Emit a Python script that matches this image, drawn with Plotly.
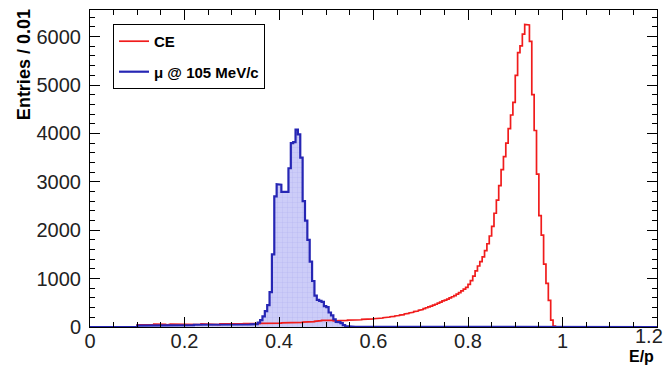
import plotly.graph_objects as go

# ---------------- data ----------------
BIN_W = 0.005
X_MIN, X_MAX = 0.0, 1.2

# CE (red) histogram: bins start at 0.100, width 0.005
ce_lo = 0.100
ce_vals = [
    45, 52, 48, 40, 55, 50, 47, 58, 44, 51, 49, 56, 42, 53, 60, 47, 50, 55, 46, 52,            # 0.100-0.195
    58, 49, 54, 61, 47, 55, 52, 63, 50, 57, 59, 48, 62, 55, 51, 64, 58, 53, 60, 56,            # 0.200-0.295
    62, 57, 66, 59, 63, 70, 58, 67, 64, 72, 66, 69, 75, 68, 73, 78, 71, 80, 76, 82,            # 0.300-0.395
    79, 85, 88, 83, 90, 87, 95, 92, 98, 94, 102, 99, 108, 104, 112, 118, 125, 132, 138, 142,   # 0.400-0.495
    145, 140, 136, 128, 124, 130, 127, 135, 138, 142, 140, 148, 145, 152, 150, 158, 155, 162, 160, 168,  # 0.500-0.595
    172, 176, 180, 186, 192, 198, 205, 212, 220, 228, 236, 246, 256, 268, 280, 292, 305, 318, 330, 345,  # 0.600-0.695
    360, 380, 398, 415, 432, 452, 470, 492, 515, 538, 556, 578, 600, 625, 650, 678, 710, 745, 782, 820,  # 0.700-0.795
    880, 960, 1050, 1160, 1260, 1350, 1450, 1580, 1720, 1880, 2080, 2350, 2620, 2920, 3250, 3520, 3800, 4100, 4380, 4640,  # 0.800-0.895
    5200, 5670, 5810, 6050, 6250, 6240, 5900, 4800, 4060, 3160, 2300, 1900, 1300, 900, 550, 140, 20, 0, 0, 0,  # 0.900-0.995
]

# mu @ 105 MeV/c (blue) histogram: bins start at 0.100, width 0.005
mu_lo = 0.100
mu_vals = [
    30, 38, 35, 42, 36, 40, 33, 45, 38, 41, 36, 43, 39, 35, 44, 40, 37, 42, 38, 45,            # 0.100-0.195
    41, 36, 44, 39, 47, 42, 38, 45, 40, 48, 43, 39, 46, 41, 44, 49, 42, 46, 40, 47,            # 0.200-0.295
    44, 48, 42, 46, 50, 45, 49, 52, 55, 58, 60, 90, 140, 220, 330, 450, 720, 1500, 2700, 2950, # 0.300-0.395
    2940, 2790, 2780, 2790, 3280, 3800, 3820, 4080, 3980, 3500, 2600, 2200, 1800, 1350, 950, 650, 560, 540, 520, 430,  # 0.400-0.495
    410, 300, 240, 160, 105, 100, 80, 40, 20, 10, 8, 5, 4, 6, 3, 4, 5, 3, 2, 2,                # 0.500-0.595
]

x_ticks = [0, 0.2, 0.4, 0.6, 0.8, 1.0, 1.2]
x_tick_labels = ["0", "0.2", "0.4", "0.6", "0.8", "1", "1.2"]
y_ticks = [0, 1000, 2000, 3000, 4000, 5000, 6000]
y_tick_labels = ["0", "1000", "2000", "3000", "4000", "5000", "6000"]


def steps(lo, w, vals, xmin, xmax):
    xs = [xmin, lo]
    ys = [0, 0]
    for i, v in enumerate(vals):
        a = lo + i * w
        b = a + w
        xs += [a, b]
        ys += [v, v]
    hi = lo + len(vals) * w
    xs += [hi, xmax]
    ys += [0, 0]
    return xs, ys


ce_x, ce_y = steps(ce_lo, BIN_W, ce_vals, X_MIN, X_MAX)
mu_x, mu_y = steps(mu_lo, BIN_W, mu_vals, X_MIN, X_MAX)

RED = "#f01c1c"
BLUE = "#2626b4"
FONT = "Liberation Sans"
TICK_FONT = dict(family=FONT, size=20, color="#222")

fig = go.Figure()

# blue hatched fill (no legend)
fig.add_trace(go.Scatter(
    x=mu_x, y=mu_y, mode="lines", line=dict(width=0, color=BLUE),
    fill="tozeroy", fillcolor="rgba(200,200,245,0.9)",
    fillpattern=dict(shape="+", fgcolor="rgba(110,110,225,0.55)", bgcolor="rgba(205,205,248,1)",
                     size=5, solidity=0.12),
    showlegend=False, hoverinfo="skip",
))
# red CE outline
fig.add_trace(go.Scatter(
    x=ce_x, y=ce_y, mode="lines", name="CE", legendgroup="ce",
    line=dict(color=RED, width=1.7),
))
# blue mu outline
fig.add_trace(go.Scatter(
    x=mu_x, y=mu_y, mode="lines", name="\u03bc @ 105 MeV/c", legendgroup="mu",
    line=dict(color=BLUE, width=2.2),
))

axis_common = dict(
    showline=True, linecolor="black", linewidth=1, mirror="allticks",
    ticks="inside", tickcolor="black", showgrid=False, zeroline=False,
    tickfont=TICK_FONT, automargin=False,
)

# the last x label (1.2) sits at the page edge; it is drawn as an annotation below
fig.update_xaxes(
    range=[X_MIN, X_MAX], tickvals=x_ticks, ticktext=x_tick_labels[:-1] + [""],
    ticklen=10, tickwidth=1, ticklabelstandoff=-4,
    minor=dict(dtick=0.05, ticklen=5, tickcolor="black", ticks="inside", showgrid=False),
    **axis_common,
)
fig.update_yaxes(
    range=[0, 6550], tickvals=y_ticks, ticktext=y_tick_labels,
    ticklen=10, tickwidth=1, ticklabelstandoff=4,
    minor=dict(dtick=200, ticklen=5, tickcolor="black", ticks="inside", showgrid=False),
    **axis_common,
)

fig.update_layout(
    width=664, height=366,
    margin=dict(l=90, r=7, t=10, b=39),
    plot_bgcolor="white", paper_bgcolor="white",
    showlegend=True,
    legend=dict(
        x=0.0406, y=0.956, xanchor="left", yanchor="top",
        bgcolor="white", bordercolor="black", borderwidth=1,
        font=dict(family=FONT, size=15, color="black", weight="bold"),
        tracegroupgap=8, itemwidth=30,
    ),
    annotations=[
        dict(text=x_tick_labels[-1], xref="paper", yref="paper", x=1.0123, y=-0.0284,
             xanchor="right", yanchor="middle", showarrow=False, font=TICK_FONT,
             borderpad=0),
        dict(text="<b>E/p</b>", xref="paper", yref="paper", x=0.9965, y=-0.0931,
             xanchor="right", yanchor="middle", showarrow=False, borderpad=0,
             font=dict(family=FONT, size=16, color="black")),
        dict(text="<b>Entries / 0.01</b>", xref="paper", yref="paper", x=-0.115, y=1.01,
             xanchor="center", yanchor="top", textangle=-90, showarrow=False,
             font=dict(family=FONT, size=18, color="black")),
    ],
)

fig.write_html(
    "out.html",
    config={"displayModeBar": False},
    post_script="document.body.style.margin='0';document.body.style.padding='0';",
)
